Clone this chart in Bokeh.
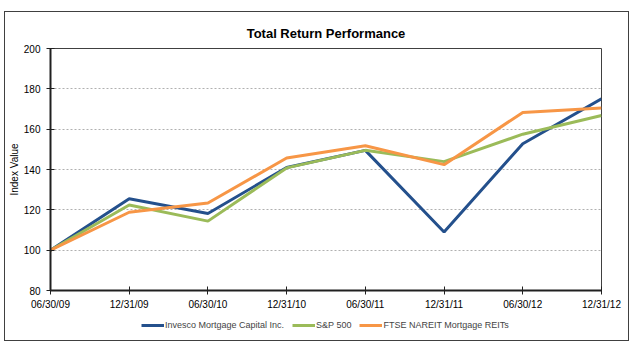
from bokeh.plotting import figure
from bokeh.layouts import column
from bokeh.models import FixedTicker, Legend, LegendItem, Range1d
from bokeh.embed import file_html
from bokeh.resources import INLINE

dates = ["06/30/09", "12/31/09", "06/30/10", "12/31/10", "06/30/11", "12/31/11", "06/30/12", "12/31/12"]
invesco = [100, 125.5, 118.2, 141.0, 149.5, 109.0, 152.8, 175.0]
sp500 = [100, 122.4, 114.4, 140.8, 149.5, 143.9, 157.5, 166.8]
ftse = [100, 118.8, 123.4, 145.7, 151.8, 142.4, 168.3, 170.5]
y_ticks = [80, 100, 120, 140, 160, 180, 200]
names = ["Invesco Mortgage Capital Inc.", "S&P 500", "FTSE NAREIT Mortgage REITs"]
colors = ["#24508C", "#9BBB59", "#F79646"]

xs = list(range(len(dates)))

p = figure(width=623, height=300, output_backend="svg", toolbar_location=None,
           x_range=Range1d(0, len(dates) - 1), y_range=Range1d(80, 200),
           min_border_left=45, min_border_right=27, min_border_top=36, min_border_bottom=20)

p.title.text = "Total Return Performance"
p.title.align = "center"
p.title.text_font = "Liberation Sans"
p.title.text_font_size = "13px"
p.title.text_font_style = "bold"
p.title.text_color = "#000000"
p.title.standoff = 16

p.background_fill_color = "white"
p.border_fill_color = "white"
p.outline_line_color = "#404040"
p.outline_line_width = 1

p.xgrid.grid_line_color = None
p.ygrid.grid_line_color = "#b0b0b0"
p.ygrid.grid_line_dash = "2 2"
p.ygrid.grid_line_width = 1

p.xaxis.ticker = FixedTicker(ticks=xs)
p.xaxis.major_label_overrides = {i: d for i, d in enumerate(dates)}
p.yaxis.ticker = FixedTicker(ticks=y_ticks)
p.yaxis.axis_label = "Index Value"

for ax in (p.xaxis, p.yaxis):
    ax.axis_line_color = "#202020"
    ax.axis_line_width = 2
    ax.major_tick_line_color = "#202020"
    ax.major_tick_line_width = 1
    ax.major_tick_in = 4
    ax.major_tick_out = 4
    ax.minor_tick_line_color = None
    ax.major_label_text_font = "Liberation Sans"
    ax.major_label_text_font_size = "10px"
    ax.major_label_text_color = "#000000"
    ax.axis_label_text_font = "Liberation Sans"
    ax.axis_label_text_font_size = "10px"
    ax.axis_label_text_font_style = "normal"
    ax.axis_label_text_color = "#000000"

p.xaxis.major_label_standoff = 4
p.yaxis.major_label_standoff = 6
p.yaxis.axis_label_standoff = 1

series = [invesco, sp500, ftse]
for vals, c in zip(series, colors):
    p.line(xs, vals, line_color=c, line_width=3)

# legend strip below the chart
lf = figure(width=623, height=28, output_backend="svg", toolbar_location=None,
            x_range=Range1d(0, 1), y_range=Range1d(0, 1),
            x_axis_location=None, y_axis_location=None,
            min_border=0, outline_line_color=None)
lf.grid.visible = False
lf.background_fill_color = "white"
lf.border_fill_color = "white"
items = []
for name, c in zip(names, colors):
    r = lf.line([-5, -4], [-5, -4], line_color=c, line_width=3)
    items.append(LegendItem(label=name, renderers=[r]))

legend = Legend(items=items, orientation="horizontal", location=(91, 9))
legend.label_text_font = "Liberation Sans"
legend.label_text_font_size = "9px"
legend.label_standoff = 1
legend.glyph_width = 23
legend.glyph_height = 12
legend.spacing = 8
legend.padding = 2
legend.margin = 0
legend.border_line_color = None
legend.background_fill_alpha = 0
lf.add_layout(legend, "center")

layout = column(p, lf, spacing=0, margin=(12, 0, 0, 5),
                styles={"outline": "1px solid #404040"})

open("out.html", "w").write(file_html(layout, INLINE))
